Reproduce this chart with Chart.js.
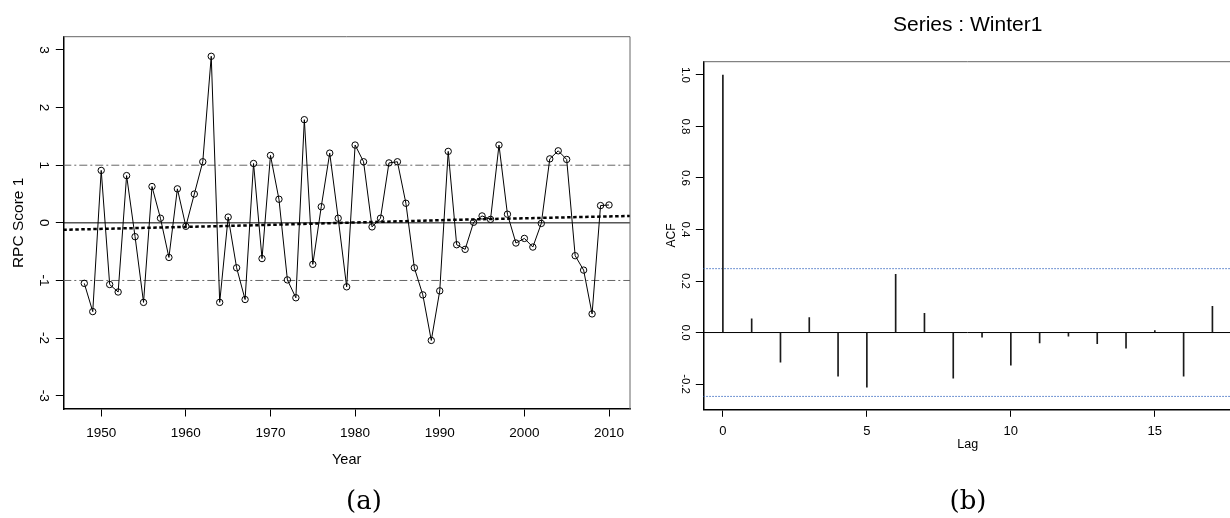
<!DOCTYPE html>
<html><head><meta charset="utf-8">
<script src="https://cdn.jsdelivr.net/npm/chart.js@4.4.1/dist/chart.umd.min.js"></script>
<style>
html,body{margin:0;padding:0;background:#fff;width:1230px;height:518px;overflow:hidden;position:relative;}
canvas{position:absolute;top:0;}
#ca{left:0}
#cb{left:640px}
.lab{position:absolute;font-family:"DejaVu Serif",serif;font-size:26px;color:#000;transform:translate(-50%,-50%);line-height:1;white-space:nowrap}
</style></head>
<body>
<canvas id="ca" width="640" height="518"></canvas>
<canvas id="cb" width="595" height="518"></canvas>
<div class="lab" style="left:364px;top:500px">(a)</div>
<div class="lab" style="left:968px;top:500px">(b)</div>
<script>
// ---------- Panel (a) data ----------
const years = [1948,1949,1950,1951,1952,1953,1954,1955,1956,1957,1958,1959,1960,1961,1962,1963,1964,1965,1966,1967,1968,1969,1970,1971,1972,1973,1974,1975,1976,1977,1978,1979,1980,1981,1982,1983,1984,1985,1986,1987,1988,1989,1990,1991,1992,1993,1994,1995,1996,1997,1998,1999,2000,2001,2002,2003,2004,2005,2006,2007,2008,2009,2010];
const scores = [-1.05,-1.54,0.91,-1.07,-1.20,0.82,-0.24,-1.38,0.63,0.08,-0.60,0.59,-0.06,0.50,1.06,2.89,-1.38,0.10,-0.78,-1.33,1.03,-0.62,1.17,0.41,-0.99,-1.30,1.79,-0.72,0.28,1.21,0.08,-1.11,1.35,1.06,-0.07,0.08,1.04,1.06,0.34,-0.78,-1.25,-2.04,-1.18,1.24,-0.38,-0.46,0.01,0.12,0.06,1.35,0.15,-0.35,-0.27,-0.42,-0.01,1.11,1.25,1.10,-0.57,-0.82,-1.58,0.30,0.31];
const trendYears = [1945.52,1966,1991,2012.48];
const trendValues = [-0.12,-0.05,0.05,0.12];
const refSolid = [0];
const refDashDot = [1,-1];
const yearTicks = [1950,1960,1970,1980,1990,2000,2010];
const scoreTicks = [-3,-2,-1,0,1,2,3];
const yearRange = [1945.52,2012.48];
const scoreRange = [-3.23,3.23];

// ---------- Panel (b) data ----------
const lags = [0,1,2,3,4,5,6,7,8,9,10,11,12,13,14,15,16,17];
const acfValues = [1.0,0.053,-0.115,0.058,-0.169,-0.212,0.226,0.075,-0.177,-0.018,-0.127,-0.040,-0.014,-0.043,-0.061,0.008,-0.169,0.102];
const ciBound = [0.248,-0.248];
const lagTicks = [0,5,10,15];
const acfTicks = [-0.2,0.0,0.2,0.4,0.6,0.8,1.0];
const lagRange = [-0.68,17.68];
const acfRange = [-0.298,1.0515];

const FONT = '"Liberation Sans", Arial, Helvetica, sans-serif';
Chart.defaults.font.family = FONT;
Chart.defaults.color = '#000';

const frame = {
  id:'frame',
  afterDraw(chart, args, opts){
    const {ctx, chartArea:a} = chart;
    ctx.save();
    ctx.strokeStyle = opts.color || '#666';
    ctx.lineWidth = opts.width || 1;
    ctx.beginPath();
    ctx.moveTo(a.left, a.top);
    ctx.lineTo(a.right, a.top);
    ctx.lineTo(a.right, a.bottom);
    ctx.stroke();
    ctx.restore();
  }
};
Chart.register(frame);

function hline(v, range){ return [{x:range[0], y:v},{x:range[1], y:v}]; }

// ---------- Chart (a) ----------
const dsA = [
  { label:'RPC Score 1', data: years.map((y,i)=>({x:y, y:scores[i]})),
    borderColor:'#000', borderWidth:1, pointRadius:3.2, pointBorderWidth:1,
    pointBorderColor:'#000', pointBackgroundColor:'rgba(0,0,0,0)', tension:0, fill:false },
  { label:'trend', data: trendYears.map((y,i)=>({x:y, y:trendValues[i]})),
    borderColor:'#000', borderWidth:2.5, borderDash:[3.5,2.5], pointRadius:0, fill:false, tension:0 }
];
refSolid.forEach(v=>dsA.push({label:'ref'+v, data:hline(v, yearRange), borderColor:'#000', borderWidth:1, pointRadius:0, fill:false}));
refDashDot.forEach(v=>dsA.push({label:'ref'+v, data:hline(v, yearRange), borderColor:'#666', borderWidth:1, borderDash:[8,3,2,3], pointRadius:0, fill:false}));

new Chart(document.getElementById('ca'), {
  type:'line',
  data:{datasets:dsA},
  options:{
    responsive:false, animation:false, events:[],
    layout:{padding:{left:0, top:36.7, right:10, bottom:0}},
    plugins:{legend:{display:false}, tooltip:{enabled:false}, title:{display:false}, frame:{color:'#666', width:1}},
    scales:{
      x:{type:'linear', min:yearRange[0], max:yearRange[1],
        afterBuildTicks:s=>{s.ticks = yearTicks.map(v=>({value:v}));},
        afterFit:s=>{s.height = 109;},
        ticks:{font:{size:13.5, lineHeight:1}, padding:10.25, maxRotation:0, autoSkip:false, callback:v=>String(v)},
        grid:{display:true, drawOnChartArea:false, tickLength:7.5, tickColor:'#000', tickWidth:1},
        border:{display:true, color:'#000', width:1.5},
        title:{display:true, text:'Year', font:{size:14.5, lineHeight:1}, padding:{top:0, bottom:51}}
      },
      y:{type:'linear', min:scoreRange[0], max:scoreRange[1],
        afterBuildTicks:s=>{s.ticks = scoreTicks.map(v=>({value:v}));},
        afterFit:s=>{s.width = 63.3;},
        ticks:{font:{size:13.5, lineHeight:1}, padding:6.5, minRotation:-90, maxRotation:-90, crossAlign:'center', autoSkip:false, callback:v=>String(v)},
        grid:{display:true, drawOnChartArea:false, tickLength:7.5, tickColor:'#000', tickWidth:1},
        border:{display:true, color:'#000', width:1.5},
        title:{display:true, text:'RPC Score 1', font:{size:15.5, lineHeight:1}, padding:{top:10.5, bottom:0}}
      }
    }
  }
});

// ---------- Chart (b) ----------
const dsB = [
  { type:'bar', label:'ACF', data: lags.map((l,i)=>({x:l, y:acfValues[i]})),
    backgroundColor:'#1a1a1a', borderWidth:0, barThickness:1 }
];
dsB.push({type:'line', label:'zero', data:hline(0, lagRange), borderColor:'#000', borderWidth:1, pointRadius:0, fill:false});
ciBound.forEach(v=>dsB.push({type:'line', label:'ci'+v, data:hline(v, lagRange), borderColor:'#4472c4', borderWidth:1, borderDash:[1.5,1.5], pointRadius:0, fill:false}));

new Chart(document.getElementById('cb'), {
  type:'bar',
  data:{datasets:dsB},
  options:{
    responsive:false, animation:false, events:[],
    layout:{padding:{left:0, top:0, right:3, bottom:0}},
    plugins:{legend:{display:false}, tooltip:{enabled:false},
      title:{display:true, text:'Series : Winter1', fullSize:false, color:'#000', font:{size:21, weight:'normal', lineHeight:1}, padding:{top:15, bottom:25.7}},
      frame:{color:'#666', width:1}},
    scales:{
      x:{type:'linear', min:lagRange[0], max:lagRange[1], offset:false,
        afterBuildTicks:s=>{s.ticks = lagTicks.map(v=>({value:v}));},
        afterFit:s=>{s.height = 108.7;},
        ticks:{font:{size:13, lineHeight:1}, padding:8.4, maxRotation:0, autoSkip:false, callback:v=>String(v)},
        grid:{display:true, offset:false, drawOnChartArea:false, tickLength:7.5, tickColor:'#000', tickWidth:1},
        border:{display:true, color:'#000', width:1.5},
        title:{display:true, text:'Lag', font:{size:12.5, lineHeight:1}, padding:{top:0, bottom:67}}
      },
      y:{type:'linear', min:acfRange[0], max:acfRange[1],
        afterBuildTicks:s=>{s.ticks = acfTicks.map(v=>({value:v}));},
        afterFit:s=>{s.width = 63.3;},
        ticks:{font:{size:11.5, lineHeight:1}, padding:1, minRotation:-90, maxRotation:-90, crossAlign:'center', autoSkip:false, callback:v=>Number(v).toFixed(1)},
        grid:{display:true, drawOnChartArea:false, tickLength:7.5, tickColor:'#000', tickWidth:1},
        border:{display:true, color:'#000', width:1.5},
        title:{display:true, text:'ACF', font:{size:12, lineHeight:1}, padding:{top:25.7, bottom:0}}
      }
    }
  }
});
</script>
</body></html>
